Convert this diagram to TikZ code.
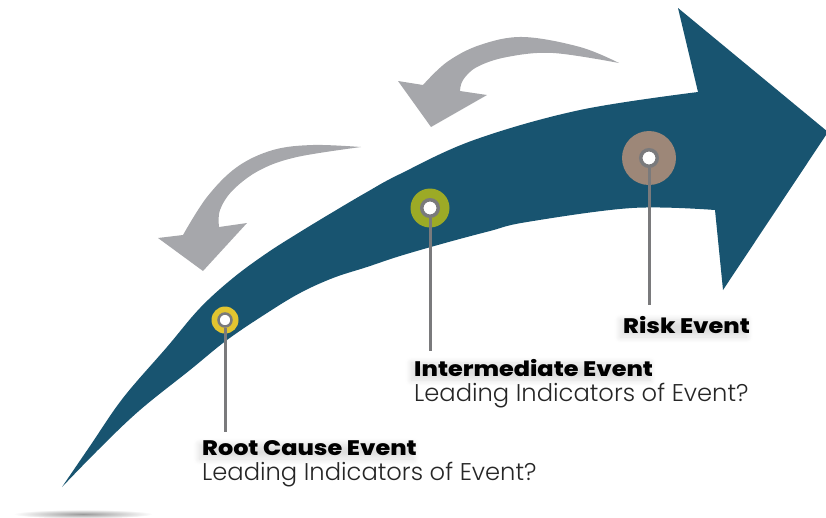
\documentclass[tikz,border=0pt]{standalone}
\usepackage{fontspec}
\usetikzlibrary{shadows.blur}
\newfontfamily\heavyf{Poppins ExtraBold}[FakeStretch=1.14]
\newfontfamily\lightf{Poppins Light}
\definecolor{mainblue}{RGB}{24,84,112}
\definecolor{arrowgray}{RGB}{166,167,171}
\definecolor{stemgray}{RGB}{122,122,124}
\definecolor{evyellow}{RGB}{226,197,48}
\definecolor{evgreen}{RGB}{156,170,38}
\definecolor{evbrown}{RGB}{157,135,120}
\tikzset{
  outerdot/.style={circle, inner sep=0pt, minimum size=#1},
  ringdot/.style={circle, inner sep=0pt, minimum size=#1, draw=stemgray, line width=3pt, fill=white},
  stem/.style={draw=stemgray, line width=3pt},
  titletext/.style={anchor=base west, inner sep=0pt, font=\heavyf\fontsize{21}{21}\selectfont, text=black,
    blur shadow={shadow xshift=-3pt, shadow yshift=-4pt, shadow opacity=13, shadow blur radius=6pt, shadow blur steps=12}},
  subtext/.style={anchor=base west, inner sep=0pt, font=\lightf\fontsize{24.2}{24.2}\selectfont, text=black!85}
}
\begin{document}
\begin{tikzpicture}[x=1pt,y=-1pt]
\useasboundingbox (0,0) rectangle (826,517);
% bottom shadow
\shade[inner color=black!40, outer color=white] (83,514) ellipse [x radius=70, y radius=4.5];
% main arrow
\fill[mainblue] plot[smooth, tension=0.6] coordinates {(62,487) (90,446) (123,398) (167,347) (200,308) (233,278) (267,253) (300,232) (333,212) (367,192) (400,174) (474,140) (580,110) (698,92)}
  -- (678,8) -- (828,132) -- (723,290) -- (715,210)
  -- plot[smooth, tension=0.6] coordinates {(715,210) (632,208) (527,222) (490,231) (445,243) (400,256) (367,267) (333,278) (300,293) (267,313) (227,340) (190,370) (140,410) (100,448) (62,487)} -- cycle;
% upper gray arrow
\fill[arrowgray] plot[smooth, tension=0.6] coordinates {(619,63) (580,47) (523,37) (480,45) (447,62) (423,85)}
  -- (398,81) -- (431,127) -- (487,95) -- (460,91)
  -- plot[smooth, tension=0.6] coordinates {(460,91) (463,80) (477,67) (507,57) (553,53) (619,63)} -- cycle;
% lower gray arrow
\fill[arrowgray] plot[smooth, tension=0.6] coordinates {(361,147) (313,145) (273,150) (237,167) (207,197) (183,235)}
  -- (158,238) -- (203,271) -- (247,223) -- (219,227)
  -- plot[smooth, tension=0.6] coordinates {(219,227) (220,210) (233,190) (260,170) (297,157) (361,147)} -- cycle;
% event markers
\node[outerdot=27pt, fill=evyellow] (rcO) at (225,320) {};
\node[ringdot=13pt, line width=2.5pt] (rc) at (225,320) {};
\node[outerdot=39pt, fill=evgreen] (ieO) at (430,208) {};
\node[ringdot=16.5pt, line width=3.5pt] (ie) at (430,208) {};
\node[outerdot=54pt, fill=evbrown] (reO) at (649,158) {};
\node[ringdot=16.5pt, line width=3.5pt] (re) at (649,158) {};
\coordinate (rcEnd) at (225,432);
\coordinate (ieEnd) at (430,351);
\coordinate (reEnd) at (649,305);
\draw[stem] (rc.south) -- (rcEnd);
\draw[stem] (ie.south) -- (ieEnd);
\draw[stem] (re.south) -- (reEnd);
% labels
\node[titletext] (reT) at (623,333) {Risk Event};
\node[titletext] (ieT) at (414,376) {Intermediate Event};
\node[subtext] (ieS) at (414,401) {Leading Indicators of Event?};
\node[titletext] (rcT) at (202,455) {Root Cause Event};
\node[subtext] (rcS) at (202,480) {Leading Indicators of Event?};
\end{tikzpicture}
\end{document}
